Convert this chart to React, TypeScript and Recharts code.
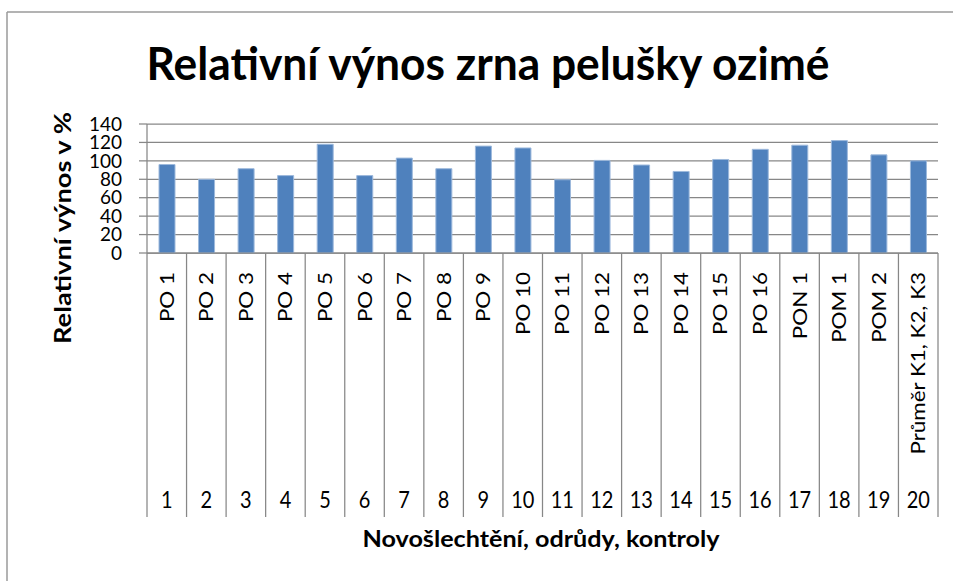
import { BarChart, Bar, XAxis, YAxis, CartesianGrid } from 'recharts';

const categories = [
  'PO 1', 'PO 2', 'PO 3', 'PO 4', 'PO 5', 'PO 6', 'PO 7', 'PO 8', 'PO 9', 'PO 10',
  'PO 11', 'PO 12', 'PO 13', 'PO 14', 'PO 15', 'PO 16', 'PON 1', 'POM 1', 'POM 2',
  'Průměr K1, K2, K3',
];
const numbers = ['1', '2', '3', '4', '5', '6', '7', '8', '9', '10', '11', '12', '13', '14', '15', '16', '17', '18', '19', '20'];
const relativeYield = [96, 80, 91.5, 84, 118, 84, 103, 91.5, 116, 114, 79.5, 100.5, 95.5, 88.5, 101.5, 112.5, 117, 122, 106.5, 100];
const yTicks = [0, 20, 40, 60, 80, 100, 120, 140];

const title = 'Relativní výnos zrna pelušky ozimé';
const yTitle = 'Relativní výnos v %';
const xTitle = 'Novošlechtění, odrůdy, kontroly';

const W = 953;
const H = 581;
const FONT = "Lato, 'Open Sans', sans-serif";
const GRID = '#878787';
const BAND = (W - 147 - 15) / categories.length;

const data = categories.map((name, i) => ({ key: numbers[i], name, num: numbers[i], value: relativeYield[i] }));

// two-level category axis: rotated name, number below, dividers between categories
function CategoryTick(props: any) {
  const { x, y, index } = props;
  const row = data[index];
  const left = x - BAND / 2;
  const right = x + BAND / 2;
  return (
    <g>
      <line x1={left} y1={y} x2={left} y2={y + 264} stroke={GRID} strokeWidth={1.25} />
      {index === data.length - 1 && (
        <line x1={right} y1={y} x2={right} y2={y + 264} stroke={GRID} strokeWidth={1.25} />
      )}
      <text
        transform={`translate(${x + 7},${y + 19}) rotate(-90) scale(1.12,1)`}
        textAnchor="end"
        fontFamily={FONT}
        fontSize={20}
        fill="#000"
      >
        {row.name}
      </text>
      <text
        transform={`translate(${x},${y + 255}) scale(1,1.15)`}
        textAnchor="middle"
        fontFamily={FONT}
        fontSize={20}
        fill="#000"
      >
        {row.num}
      </text>
    </g>
  );
}

export default function App() {
  return (
    <div style={{ position: 'absolute', left: 0, top: 0, width: W, height: H, background: '#fff' }}>
      <BarChart
        width={W}
        height={H}
        data={data}
        margin={{ top: 124, right: 15, left: 87, bottom: 58 }}
      >
        <CartesianGrid vertical={false} stroke={GRID} strokeWidth={1.25} />
        <XAxis
          dataKey="key"
          height={270}
          interval={0}
          tickSize={0}
          tickMargin={0}
          axisLine={{ stroke: GRID, strokeWidth: 1.25 }}
          tick={<CategoryTick />}
        />
        <YAxis
          width={60}
          domain={[0, 140]}
          ticks={yTicks}
          interval={0}
          tickSize={8}
          tickMargin={17}
          axisLine={{ stroke: GRID, strokeWidth: 1.25 }}
          tickLine={{ stroke: GRID, strokeWidth: 1.25 }}
          tick={{ fontFamily: FONT, fontSize: 19, fill: '#000' }}
        />
        <Bar dataKey="value" fill="#4F81BD" stroke="#9DB9DC" strokeWidth={1} barSize={16} isAnimationActive={false} />
      </BarChart>
      <svg
        width={W}
        height={H}
        style={{ position: 'absolute', left: 0, top: 0, pointerEvents: 'none' }}
      >
        <line x1={7} y1={12} x2={W} y2={12} stroke="#9a9a9a" strokeWidth={1.5} />
        <line x1={7} y1={12} x2={7} y2={H} stroke="#9a9a9a" strokeWidth={1.5} />
        <text
          x={488}
          y={80}
          textAnchor="middle"
          fontFamily={FONT}
          fontWeight={700}
          fontSize={46}
          textLength={683}
          lengthAdjust="spacingAndGlyphs"
          fill="#000"
        >
          {title}
        </text>
        <text
          transform="translate(71,228) rotate(-90)"
          textAnchor="middle"
          fontFamily={FONT}
          fontWeight={700}
          fontSize={23}
          textLength={232}
          lengthAdjust="spacingAndGlyphs"
          fill="#000"
        >
          {yTitle}
        </text>
        <text
          x={541}
          y={547}
          textAnchor="middle"
          fontFamily={FONT}
          fontWeight={700}
          fontSize={23}
          textLength={357}
          lengthAdjust="spacingAndGlyphs"
          fill="#000"
        >
          {xTitle}
        </text>
      </svg>
    </div>
  );
}
